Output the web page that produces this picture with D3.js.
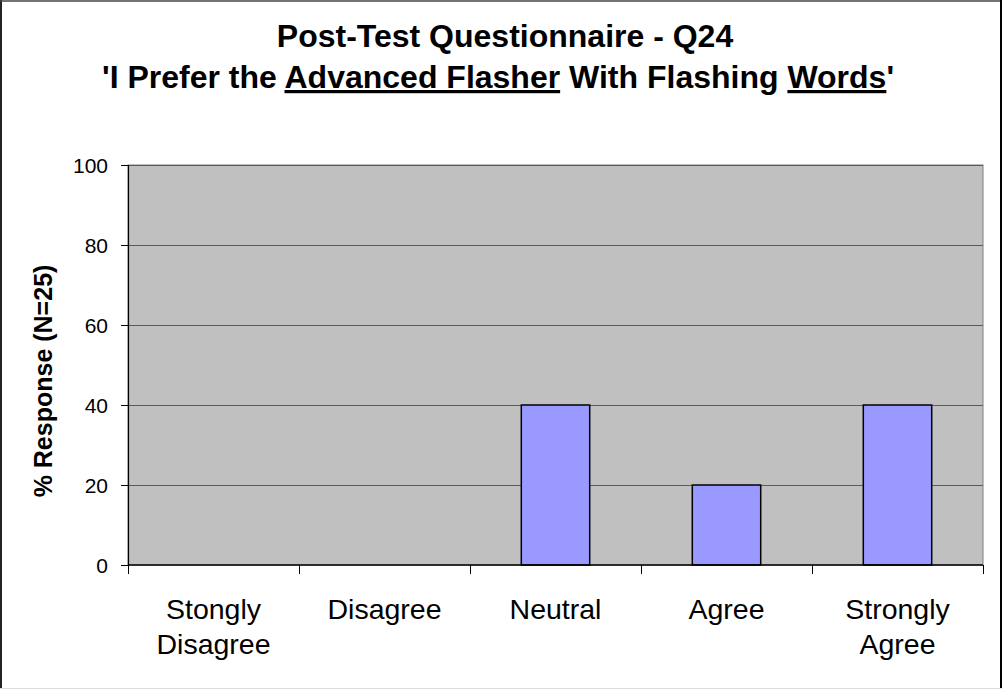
<!DOCTYPE html>
<html>
<head>
<meta charset="utf-8">
<script src="https://cdn.jsdelivr.net/npm/d3@7"></script>
<style>
  html, body { margin: 0; padding: 0; background: #fff; }
  svg { display: block; font-family: "Liberation Sans", Arial, sans-serif; }
</style>
</head>
<body>
<svg id="chart" width="1008" height="690"></svg>
<script>
// Response categories (each entry holds the label lines)
const categories = [["Stongly", "Disagree"], ["Disagree"], ["Neutral"], ["Agree"], ["Strongly", "Agree"]];
// Percent of responses per category
const responses = [0, 0, 40, 20, 40];
// Value axis ticks
const yTicks = [0, 20, 40, 60, 80, 100];

const svg = d3.select("#chart");

// Outer chart frame
svg.append("line").attr("x1", 1).attr("y1", 0).attr("x2", 1).attr("y2", 689)
  .attr("stroke", "#222").attr("stroke-width", 2);
svg.append("line").attr("x1", 0).attr("y1", 1).attr("x2", 1002).attr("y2", 1)
  .attr("stroke", "#444").attr("stroke-width", 1.5);
svg.append("line").attr("x1", 1001).attr("y1", 0).attr("x2", 1001).attr("y2", 689)
  .attr("stroke", "#000").attr("stroke-width", 2);
svg.append("line").attr("x1", 0).attr("y1", 688.5).attr("x2", 1002).attr("y2", 688.5)
  .attr("stroke", "#ddd").attr("stroke-width", 1);

// Plot area geometry
const plot = { left: 128, right: 983, top: 165, bottom: 565 };

const keys = categories.map((c, i) => i);
const x = d3.scaleBand()
  .domain(keys)
  .range([plot.left, plot.right])
  .paddingInner(0.6)
  .paddingOuter(0.3);
const y = d3.scaleLinear().domain([0, 100]).range([plot.bottom, plot.top]);

// Plot background
svg.append("rect")
  .attr("x", plot.left).attr("y", plot.top)
  .attr("width", plot.right - plot.left).attr("height", plot.bottom - plot.top)
  .attr("fill", "#c0c0c0")
  .attr("stroke", "#808080").attr("stroke-width", 1);

// Horizontal gridlines
svg.append("g").selectAll("line")
  .data(yTicks.filter(t => t > 0))
  .join("line")
  .attr("x1", plot.left).attr("x2", plot.right)
  .attr("y1", d => Math.round(y(d)) + 0.5).attr("y2", d => Math.round(y(d)) + 0.5)
  .attr("stroke", "#5a5a5a").attr("stroke-width", 1.2);

// Bars
svg.append("g").selectAll("rect")
  .data(responses.map((v, i) => ({ i, v })).filter(d => d.v > 0))
  .join("rect")
  .attr("x", d => x(d.i))
  .attr("y", d => y(d.v))
  .attr("width", x.bandwidth())
  .attr("height", d => y(0) - y(d.v))
  .attr("fill", "#9999ff")
  .attr("stroke", "#000").attr("stroke-width", 1.5);

// Value axis
const yAxis = svg.append("g")
  .attr("transform", `translate(${plot.left},0)`)
  .call(d3.axisLeft(y).tickValues(yTicks).tickSize(7).tickPadding(13).tickFormat(d3.format("d")));
yAxis.select(".domain").attr("stroke", "#000").attr("stroke-width", 1.2);
yAxis.selectAll(".tick line").attr("stroke", "#000");
yAxis.selectAll(".tick text")
  .attr("font-size", 21).attr("font-family", "Liberation Sans, Arial, sans-serif")
  .attr("fill", "#000").attr("dy", "0.36em");

// Category axis line with ticks on category boundaries
const boundaries = d3.range(categories.length + 1).map(i => plot.left + i * x.step());
const xAxis = svg.append("g");
xAxis.append("line")
  .attr("x1", plot.left).attr("x2", plot.right)
  .attr("y1", plot.bottom).attr("y2", plot.bottom)
  .attr("stroke", "#000").attr("stroke-width", 1.5);
xAxis.selectAll("line.tick")
  .data(boundaries)
  .join("line").attr("class", "tick")
  .attr("x1", d => Math.round(d) + 0.5).attr("x2", d => Math.round(d) + 0.5)
  .attr("y1", plot.bottom).attr("y2", plot.bottom + 9)
  .attr("stroke", "#000").attr("stroke-width", 1);

// Category labels
const labels = xAxis.selectAll("text.cat")
  .data(categories)
  .join("text").attr("class", "cat")
  .attr("text-anchor", "middle")
  .attr("font-size", 28.5)
  .attr("fill", "#000");
labels.selectAll("tspan")
  .data((d, i) => d.map(line => ({ line, i })))
  .join("tspan")
  .attr("x", d => x(d.i) + x.bandwidth() / 2)
  .attr("y", (d, j) => 619 + j * 35)
  .text(d => d.line);

// Value axis title
svg.append("text")
  .attr("transform", "translate(52,381) rotate(-90)")
  .attr("text-anchor", "middle")
  .attr("font-size", 25).attr("font-weight", "bold")
  .attr("fill", "#000")
  .text("% Response (N=25)");

// Chart title
const title = svg.append("g").attr("font-weight", "bold").attr("font-size", 32).attr("fill", "#000");
title.append("text")
  .attr("x", 505).attr("y", 47).attr("text-anchor", "middle")
  .text("Post-Test Questionnaire - Q24");
const sub = title.append("text")
  .attr("x", 498).attr("y", 88).attr("text-anchor", "middle");
const parts = [
  { t: "'I Prefer the ", u: false },
  { t: "Advanced Flasher", u: true },
  { t: " With Flashing ", u: false },
  { t: "Words", u: true },
  { t: "'", u: false }
];
sub.selectAll("tspan").data(parts).join("tspan")
  .attr("text-decoration", d => d.u ? "underline" : null)
  .style("white-space", "pre")
  .text(d => d.t);
</script>
</body>
</html>
